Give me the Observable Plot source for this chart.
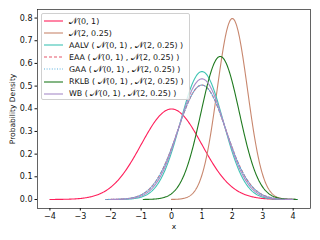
<!DOCTYPE html>
<html><head><meta charset="utf-8">
<script src="https://cdn.jsdelivr.net/npm/d3@7"></script>
<script src="https://cdn.jsdelivr.net/npm/@observablehq/plot@0.6"></script>
<style>
html,body{margin:0;padding:0;background:#fff;}
#wrap{position:relative;width:320px;height:240px;font-family:"DejaVu Sans",sans-serif;}
#legend{position:absolute;left:41px;top:13px;width:149px;height:87px;border:1px solid #d0d0d0;border-radius:2px;background:rgba(255,255,255,0.8);box-sizing:border-box;font-size:7.9px;color:#111;}
.row{position:absolute;left:0;height:12px;display:flex;align-items:center;white-space:nowrap;}
.row svg{margin-left:2px;margin-right:6px;}
.cal{font-size:8.5px;}
</style></head>
<body><div id="wrap"></div>
<script>
// Series: each is a normal density N(mean, variance), drawn over mean ± 4·sd
const labels = ["𝒩(0, 1)", "𝒩(2, 0.25)",
  "AALV ( 𝒩(0, 1) , 𝒩(2, 0.25) )",
  "EAA ( 𝒩(0, 1) , 𝒩(2, 0.25) )",
  "GAA ( 𝒩(0, 1) , 𝒩(2, 0.25) )",
  "RKLB ( 𝒩(0, 1) , 𝒩(2, 0.25) )",
  "WB ( 𝒩(0, 1) , 𝒩(2, 0.25) )"];
const means = [0, 2, 1, 1, 1, 1.6, 1];
const variances = [1, 0.25, 0.5, 0.625, 0.625, 0.4, 0.5625];
const colors = ["#ff1f5b", "#c8876e", "#3fc4b4", "#e5566a", "#5ab0dc", "#1f7a1f", "#a88cc8"];
const dashes = [null, null, null, "3,2", "1,1.6", null, null];
const xTicks = [-4, -3, -2, -1, 0, 1, 2, 3, 4];
const yTicks = [0, 0.1, 0.2, 0.3, 0.4, 0.5, 0.6, 0.7, 0.8];

const series = labels.map((label, i) => {
  const sd = Math.sqrt(variances[i]);
  const lo = means[i] - 4 * sd, hi = means[i] + 4 * sd, n = 300;
  return d3.range(n + 1).map(k => {
    const x = lo + (hi - lo) * k / n;
    return {x, y: Math.exp(-((x - means[i]) ** 2) / (2 * variances[i])) / Math.sqrt(2 * Math.PI * variances[i]), s: i};
  });
});
const all = series.flat();
const [x0, x1] = d3.extent(all, d => d.x);
const [y0, y1] = d3.extent(all, d => d.y);
const mx = (x1 - x0) * 0.05, my = (y1 - y0) * 0.05;

const chart = Plot.plot({
  width: 320, height: 240,
  marginLeft: 37, marginRight: 10, marginTop: 9, marginBottom: 32,
  style: {fontFamily: "DejaVu Sans, sans-serif", fontSize: "8px", color: "#111", background: "#fff"},
  x: {domain: [x0 - mx, x1 + mx]},
  y: {domain: [y0 - my, y1 + my]},
  marks: [
    ...series.map((d, i) => Plot.line(d, {x: "x", y: "y", stroke: colors[i], strokeWidth: 1.1,
      strokeDasharray: dashes[i] || undefined})),
    Plot.frame({stroke: "#222", strokeWidth: 0.7}),
    Plot.axisX({ticks: xTicks, tickSize: 2.5, tickPadding: 2.5, fontSize: 8, label: null, tickFormat: d => d < 0 ? "−" + Math.abs(d) : String(d)}),
    Plot.axisX({ticks: [], label: "x", labelAnchor: "center", labelArrow: "none", labelOffset: 20, fontSize: 7.5}),
    Plot.axisY({ticks: yTicks, tickSize: 2.5, tickPadding: 2.5, tickFormat: ".1f", fontSize: 8, label: null}),
    Plot.axisY({ticks: [], label: "Probability Density", labelAnchor: "center", labelArrow: "none", labelOffset: 28, fontSize: 7.5})
  ]
});
const wrap = document.getElementById("wrap");
wrap.appendChild(chart);

const legend = document.createElement("div");
legend.id = "legend";
labels.forEach((label, i) => {
  const row = document.createElement("div");
  row.className = "row";
  row.style.top = (1 + i * 12.1) + "px";
  const dash = dashes[i] ? `stroke-dasharray="${dashes[i]}"` : "";
  const html = label.replace(/𝒩/g, '<span class="cal">𝒩</span>');
  row.innerHTML = `<svg width="19" height="4"><line x1="0" y1="2" x2="19" y2="2" stroke="${colors[i]}" stroke-width="1.1" ${dash}/></svg><span>${html}</span>`;
  legend.appendChild(row);
});
wrap.appendChild(legend);
</script></body></html>
